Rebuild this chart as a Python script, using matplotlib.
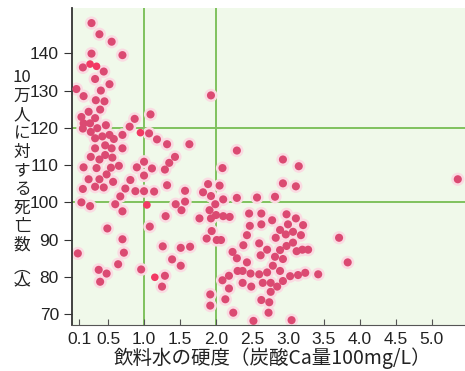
import matplotlib
matplotlib.use('Agg')
import matplotlib.pyplot as plt

plt.rcParams['font.family'] = ['Noto Sans CJK JP', 'DejaVu Sans']

# hardness of drinking water (x) vs deaths per 100k people (y)
hardness = [
    0.27, 0.38, 0.55, 0.27, 0.70, 0.15, 0.44, 0.32, 0.52, 0.06,
    0.40, 0.16, 0.33, 0.45, 0.39, 0.23, 0.13, 0.32, 0.87, 1.09,
    0.16, 0.25, 0.47, 0.80, 0.15, 0.26, 0.35, 1.07, 1.18, 1.32,
    1.63, 0.32, 0.42, 0.52, 0.58, 0.70, 0.32, 0.46, 0.55, 0.70,
    0.26, 0.38, 0.46, 0.56, 1.43, 1.35, 1.00, 0.16, 0.34, 0.54,
    0.65, 0.90, 1.11, 1.29, 0.48, 1.00, 0.23, 0.38, 0.57, 0.81,
    1.32, 0.15, 0.32, 0.44, 0.74, 0.88, 1.00, 1.14, 1.57, 0.67,
    0.13, 0.25, 0.60, 1.44, 1.57, 1.52, 0.70, 1.30, 1.93, 2.29,
    2.93, 3.15, 2.09, 2.93, 3.11, 1.89, 2.05, 1.82, 1.93, 2.10,
    2.29, 2.57, 2.82, 1.99, 1.91, 2.00, 2.10, 2.19, 2.46, 2.63,
    2.98, 3.11, 2.78, 1.77, 1.93, 1.94, 1.87, 2.01, 2.07, 1.64,
    2.47, 2.63, 2.89, 3.00, 3.21, 2.43, 2.83, 2.97, 3.07, 3.18,
    2.38, 2.60, 2.71, 2.62, 2.89, 2.98, 3.07, 3.12, 3.20, 3.28,
    2.23, 2.29, 2.43, 2.79, 2.82, 2.93, 2.30, 2.37, 2.48, 2.60,
    2.71, 2.89, 2.18, 2.09, 2.37, 2.49, 2.65, 2.76, 2.85, 2.93,
    3.03, 3.14, 3.24, 3.42, 2.18, 2.76, 1.92, 2.13, 2.63, 2.74,
    1.92, 2.24, 2.73, 2.52, 3.05, 0.49, 1.08, 0.70, 0.08, 0.72,
    1.26, 1.51, 0.64, 0.37, 0.48, 0.96, 1.39, 1.51, 0.39, 1.29,
    1.25, 5.36, 3.71, 3.83,
]
deaths = [
    148.1, 145.1, 143.1, 139.9, 139.5, 136.2, 135.1, 133.1, 131.7, 130.4,
    130.0, 128.5, 127.4, 127.1, 124.9, 124.3, 122.9, 122.6, 122.4, 123.6,
    121.2, 121.2, 120.7, 120.3, 119.8, 118.9, 119.9, 118.5, 116.9, 115.6,
    115.6, 117.2, 117.7, 118.1, 117.0, 118.1, 114.5, 115.3, 114.5, 114.5,
    112.2, 111.5, 112.7, 112.0, 112.2, 110.6, 110.9, 109.4, 109.2, 109.3,
    109.8, 109.4, 109.1, 108.8, 107.5, 107.2, 106.2, 106.2, 105.5, 106.0,
    104.6, 103.6, 104.2, 104.0, 103.7, 103.0, 103.0, 102.9, 103.1, 101.6,
    100.0, 99.0, 99.5, 99.5, 100.2, 97.9, 97.6, 96.3, 128.7, 113.9,
    111.5, 109.7, 109.2, 105.1, 104.3, 104.9, 104.5, 102.7, 101.7, 100.8,
    101.2, 101.3, 101.5, 99.5, 97.9, 96.6, 96.3, 96.1, 97.0, 97.0,
    96.8, 95.7, 95.2, 95.7, 95.7, 92.3, 90.3, 89.9, 89.9, 88.1,
    93.7, 94.1, 92.6, 94.1, 93.9, 91.2, 90.5, 91.4, 92.1, 91.2,
    88.5, 89.0, 87.3, 85.8, 87.2, 88.3, 89.2, 86.9, 87.3, 87.3,
    86.7, 85.0, 83.9, 83.0, 85.4, 84.8, 81.6, 81.6, 80.9, 80.7,
    81.2, 81.6, 80.3, 79.1, 78.4, 77.4, 78.4, 78.4, 77.4, 78.9,
    80.2, 80.5, 81.1, 80.7, 76.9, 76.0, 75.3, 74.0, 73.8, 73.2,
    72.3, 70.4, 70.4, 68.2, 68.4, 93.0, 93.5, 90.1, 86.3, 86.5,
    88.2, 87.8, 83.4, 81.9, 80.9, 82.0, 84.7, 83.0, 78.7, 80.3,
    77.4, 106.2, 90.5, 83.9,
]

# brighter points printed in a different red
hl_hardness = [0.25, 0.34, 0.95, 1.04, 1.15]
hl_deaths = [137.1, 136.5, 118.7, 99.3, 79.9]

x_ticks = [0.1, 0.5, 1.0, 1.5, 2.0, 2.5, 3.0, 3.5, 4.0, 4.5, 5.0]
x_labels = ['0.1', '0.5', '1.0', '1.5', '2.0', '2.5', '3.0', '3.5',
            '4.0', '4.5', '5.0']
y_ticks = [70, 80, 90, 100, 110, 120, 130, 140]

ylabel_chars = ['10', '万', '人', 'に', '対', 'す', 'る', '死', '亡', '数']
ylabel_tail = '\ufe35\n人\n\ufe36'
xlabel = '飲料水の硬度（炭酸Ca量100mg/L）'

fig = plt.figure(figsize=(4.65, 3.71), dpi=100)
ax = fig.add_axes([0.155, 0.124, 0.845, 0.854])
ax.set_facecolor('#f0f9ea')

# green reference lines
for v in [1.0, 2.0]:
    ax.axvline(v, color='#7fc25e', lw=1.4, zorder=1)
for v in [100, 120]:
    ax.axhline(v, color='#7fc25e', lw=1.4, zorder=1)

ax.scatter(hardness, deaths, s=90, color='#fadbe2', edgecolors='none', zorder=2)
ax.scatter(hardness, deaths, s=34, color='#db4a72', edgecolors='none', zorder=3)
ax.scatter(hl_hardness, hl_deaths, s=30, color='#f23a63', edgecolors='none', zorder=4)

ax.set_xlim(0, 5.46)
ax.set_ylim(67.1, 152.1)
ax.set_xticks(x_ticks)
ax.set_xticklabels(x_labels, family='Liberation Sans')
ax.set_yticks(y_ticks)
ax.set_yticklabels([str(v) for v in y_ticks], family='Liberation Sans')
ax.tick_params(axis='x', direction='in', length=4, labelsize=12.5,
               pad=5, colors='#555555', labelcolor='#222222')
ax.tick_params(axis='y', direction='out', length=6, labelsize=12.5,
               colors='#333333', labelcolor='#222222')

ax.spines['top'].set_visible(False)
ax.spines['right'].set_visible(False)
ax.spines['left'].set_color('#333333')
ax.spines['bottom'].set_color('#555555')
ax.spines['left'].set_linewidth(1.3)

# vertical (stacked) y label
y0 = 78
for i, ch in enumerate(ylabel_chars):
    fig.text(22 / 465, 1 - (y0 + 18.6 * i) / 371, ch, ha='center',
             va='center', fontsize=12, color='#222222')
fig.text(22 / 465, 1 - 280 / 371, ylabel_tail, ha='center', va='center',
         fontsize=12, linespacing=0.6, color='#222222')

fig.text(272 / 465, 1 - 358 / 371, xlabel, ha='center', va='center',
         fontsize=14, color='#222222')

plt.savefig('out.png', dpi=100)
